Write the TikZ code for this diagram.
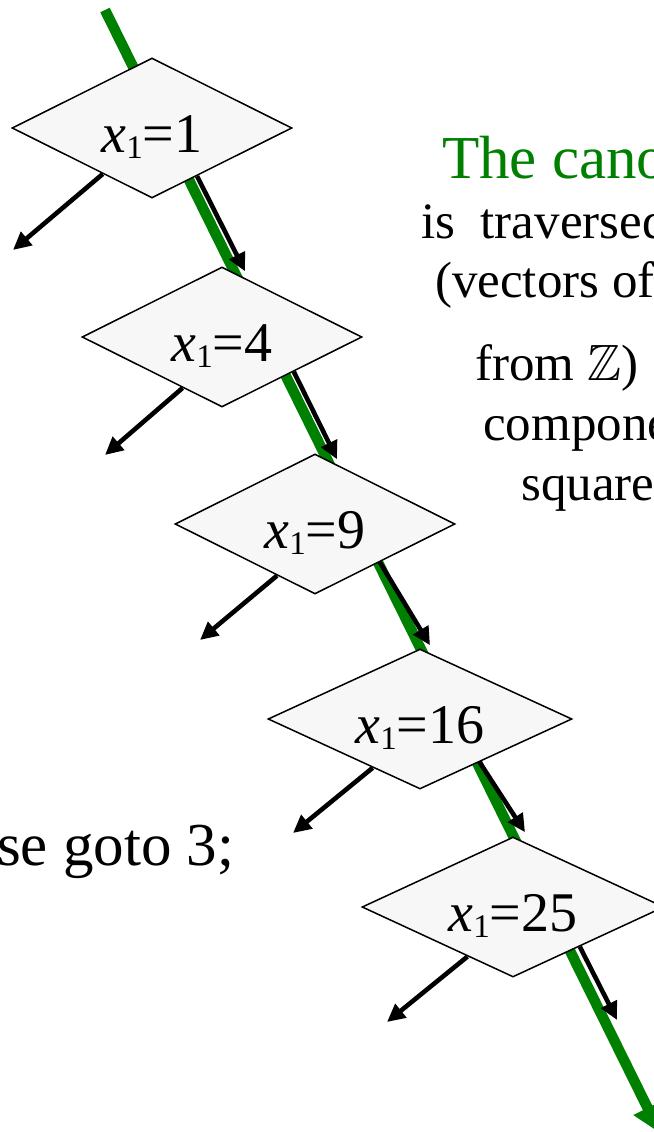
\documentclass[tikz,border=0pt]{standalone}
\usepackage{amssymb}
\usepackage{fontspec}
\setmainfont{Liberation Serif}
\usetikzlibrary{shapes.geometric,arrows.meta,calc}
\definecolor{pathgreen}{RGB}{0,128,0}
\definecolor{boxfill}{RGB}{247,247,247}
\newcommand{\xlabel}[1]{\raisebox{-9pt}[36pt][6pt]{\textit{x}\raisebox{-6pt}{\fontsize{33}{33}\selectfont 1}=#1}}
\begin{document}
\begin{tikzpicture}[x=1pt,y=-1pt,
  decision/.style={diamond, aspect=2, draw=black, line width=1.5pt, fill=boxfill, inner sep=0pt,
    minimum height=140pt, minimum width=280pt, font=\fontsize{56}{60}\selectfont},
  flow/.style={draw=black, line width=4.6pt, -{Triangle[length=18pt,width=17pt]}},
  greenpath/.style={draw=pathgreen, line width=10.5pt, -{Triangle[length=28pt,width=30pt]}},
  txt/.style={anchor=base west, inner sep=0pt, font=\fontsize{51}{56}\selectfont}]
\useasboundingbox (0,0) rectangle (653,1132);
% green traversal path (behind everything)
\coordinate (gstart) at (105,10);
\coordinate (gend) at (660,1133);
\draw[greenpath] (gstart) -- (gend);
% decisions
\node[decision] (d1) at (152,128) {\xlabel{1}};
\node[decision] (d2) at (222,337) {\xlabel{4}};
\node[decision] (d3) at (315,524) {\xlabel{9}};
\node[decision, minimum width=304pt] (d4) at (420,719) {\xlabel{16}};
\node[decision, minimum width=302pt] (d5) at (513,907) {\xlabel{25}};
% free ends
\coordinate (l1) at (13,250);
\coordinate (l2) at (105,455);
\coordinate (l3) at (200,640);
\coordinate (l4) at (293,833);
\coordinate (l5) at (387,1022);
\coordinate (r5) at (617,1020);
% left (no) branches
\draw[flow] ($(d1.south)!0.35!(d1.west)$) -- (l1);
\draw[flow] ($(d2.south)!0.28!(d2.west)$) -- (l2);
\draw[flow] ($(d3.south)!0.27!(d3.west)$) -- (l3);
\draw[flow] ($(d4.south)!0.31!(d4.west)$) -- (l4);
\draw[flow] ($(d5.south)!0.30!(d5.west)$) -- (l5);
% right (yes) branches
\draw[flow] ($(d1.south)!0.32!(d1.east)$) -- ($(d2.north)+(23,5)$);
\draw[flow] ($(d2.south)!0.51!(d2.east)$) -- ($(d3.north)+(22,6)$);
\draw[flow] ($(d3.south)!0.46!(d3.east)$) -- ($(d4.north)+(10,-3)$);
\draw[flow] ($(d4.south)!0.39!(d4.east)$) -- ($(d5.north)+(12,-4)$);
\draw[flow] ($(d5.south)!0.44!(d5.east)$) -- (r5);
% texts
\node[txt, text=pathgreen, font=\fontsize{61}{61}\selectfont] (t1) at (442,178) {The cano};
\node[txt] (t2) at (421,238) {is\ \ traversed};
\node[txt] (t3) at (435,297) {(vectors of};
\node[txt] (t4) at (475,380) {from $\mathbb{Z}$)};
\node[txt] (t5) at (483,440) {compone};
\node[txt] (t6) at (521,500) {square};
\node[txt, font=\fontsize{61}{61}\selectfont] (t7) at (-3,865) {se goto 3;};
\end{tikzpicture}
\end{document}
